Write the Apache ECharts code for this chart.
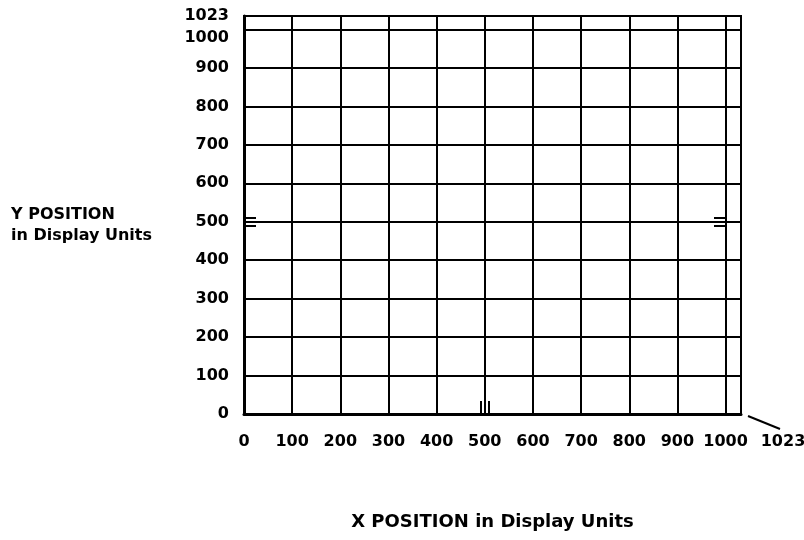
<!DOCTYPE html>
<html>
<head>
<meta charset="utf-8">
<script src="https://cdn.jsdelivr.net/npm/echarts@6/dist/echarts.min.js"></script>
<style>html,body{margin:0;padding:0;background:#fff}#c{width:804px;height:540px}</style>
</head>
<body>
<div id="c"></div>
<script>
// Display space: addressable 0..1023, grid drawn every 100
const X_TICKS = [0, 100, 200, 300, 400, 500, 600, 700, 800, 900, 1000];
const Y_TICKS = [0, 100, 200, 300, 400, 500, 600, 700, 800, 900, 1000];
const EDGE_LABEL = '1023';
// drawn extent of the outer frame on each axis (as measured in the picture)
const X_EXTENT = 1032;
const Y_EXTENT = 1035;
// centre marks on the left, right and bottom edges
const X_CENTER_MARKS = [491, 500, 509];
const Y_CENTER_MARKS = [490, 500, 510];
const X_TITLE = 'X POSITION in Display Units';
const Y_TITLE = 'Y POSITION\nin Display Units';

const FONT = 'DejaVu Sans';
const labelStyle = { color: '#000', fontFamily: FONT, fontWeight: 'bold', fontSize: 16 };

const chart = echarts.init(document.getElementById('c'), null, { renderer: 'canvas' });

const hiddenAxisParts = {
  axisLine: { show: false, onZero: false },
  axisLabel: { show: false },
  splitLine: { show: false }
};

chart.setOption({
  animation: false,
  backgroundColor: '#fff',
  grid: {
    left: 244, right: 63, top: 16, bottom: 126,
    show: true, borderColor: '#000', borderWidth: 2, backgroundColor: 'transparent',
    containLabel: false, outerBoundsMode: 'none'
  },
  xAxis: [
    {
      type: 'value', min: 0, max: X_EXTENT, interval: 100, position: 'bottom',
      axisLine: { show: true, onZero: false, lineStyle: { color: '#000', width: 3 } },
      axisTick: { show: false },
      splitLine: { show: true, lineStyle: { color: '#000', width: 2 } },
      axisLabel: Object.assign({}, labelStyle, {
        margin: 20, showMinLabel: true, showMaxLabel: true, hideOverlap: false,
        customValues: X_TICKS.concat([X_EXTENT]),
        formatter: v => (v === X_EXTENT ? '{far|' + EDGE_LABEL + '}' : String(v)),
        rich: { far: Object.assign({}, labelStyle, { padding: [0, 0, 0, 84] }) }
      }),
      name: X_TITLE, nameLocation: 'middle', nameGap: 108,
      nameTextStyle: { color: '#000', fontFamily: FONT, fontWeight: 'bold', fontSize: 18, verticalAlign: 'middle' }
    },
    Object.assign({
      type: 'value', min: 0, max: X_EXTENT, position: 'bottom', gridIndex: 0,
      axisTick: { show: true, inside: true, length: 13, customValues: X_CENTER_MARKS, lineStyle: { color: '#000', width: 2 } }
    }, hiddenAxisParts)
  ],
  yAxis: [
    {
      type: 'value', min: 0, max: Y_EXTENT, interval: 100, position: 'left',
      axisLine: { show: true, onZero: false, lineStyle: { color: '#000', width: 3 } },
      axisTick: { show: false },
      splitLine: { show: true, lineStyle: { color: '#000', width: 2 } },
      axisLabel: Object.assign({}, labelStyle, {
        margin: 15, showMinLabel: true, showMaxLabel: true, hideOverlap: false,
        customValues: Y_TICKS.concat([Y_EXTENT]),
        formatter: v => (v === Y_EXTENT ? EDGE_LABEL : (v === 1000 ? '{low|1000}' : String(v))),
        rich: { low: Object.assign({}, labelStyle, { padding: [16, 0, 0, 0] }) }
      }),
      name: '\n' + Y_TITLE, nameLocation: 'middle', nameGap: 233, nameRotate: 0,
      nameTextStyle: { color: '#000', fontFamily: FONT, fontWeight: 'bold', fontSize: 16,
        align: 'left', verticalAlign: 'middle', lineHeight: 21 }
    },
    Object.assign({
      type: 'value', min: 0, max: Y_EXTENT, position: 'left', gridIndex: 0, offset: 0,
      axisTick: { show: true, inside: true, length: 12, customValues: Y_CENTER_MARKS, lineStyle: { color: '#000', width: 2 } }
    }, hiddenAxisParts),
    Object.assign({
      type: 'value', min: 0, max: Y_EXTENT, position: 'right', gridIndex: 0, offset: -15,
      axisTick: { show: true, inside: true, length: 12, customValues: Y_CENTER_MARKS, lineStyle: { color: '#000', width: 2 } }
    }, hiddenAxisParts)
  ],
  series: []
});

// leader line from the frame corner to the "1023" label
const corner = chart.convertToPixel({ gridIndex: 0 }, [X_EXTENT, 0]);
chart.setOption({
  graphic: [{
    type: 'line',
    shape: { x1: corner[0] + 7, y1: corner[1] + 2, x2: corner[0] + 39, y2: corner[1] + 15 },
    style: { stroke: '#000', lineWidth: 2 }
  }]
});
</script>
</body>
</html>
